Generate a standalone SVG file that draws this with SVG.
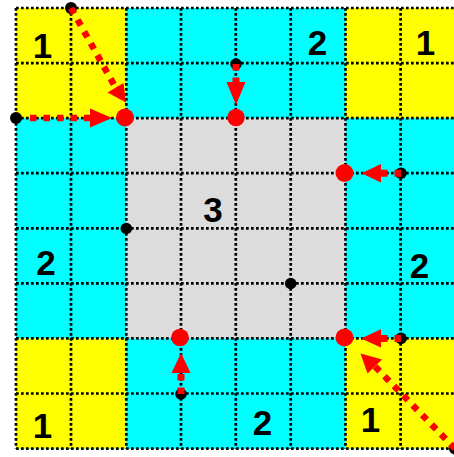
<svg xmlns="http://www.w3.org/2000/svg" width="454" height="457" viewBox="0 0 454 457">
<style>
.y{fill:#ffff00}.c{fill:#00ffff}.g{fill:#dcdcdc}
.grid line{stroke:#000;stroke-width:2.7;stroke-dasharray:2.7 2.3}
.lbl{font-family:"Liberation Sans",Arial,sans-serif;font-weight:bold;font-size:35px;fill:#000;text-anchor:middle}
.bd{fill:#000}.rd{fill:#ff0000}
.ln{stroke:#ff0000;stroke-width:6.5;stroke-dasharray:6.5 7;fill:none}
.sh{stroke:#ff0000;stroke-width:7;stroke-dasharray:6.5 7;fill:none}
.ah{fill:#ff0000}
</style>
<rect width="454" height="457" fill="#ffffff"/>
<g id="regions">
<rect class="c" x="16" y="8" width="440" height="441"/>
<rect class="y" x="16" y="8" width="110.3" height="110.1"/>
<rect class="y" x="345.5" y="8" width="110" height="110.1"/>
<rect class="y" x="16" y="338.4" width="110.3" height="110.2"/>
<rect class="y" x="345.5" y="338.4" width="110" height="110.2"/>
<rect class="g" x="126.3" y="118.1" width="219.2" height="220.3"/>
</g>
<g id="grid" class="grid">
<line x1="16" y1="8" x2="16" y2="448.6"/>
<line x1="71" y1="8" x2="71" y2="448.6"/>
<line x1="126.3" y1="8" x2="126.3" y2="448.6"/>
<line x1="181" y1="8" x2="181" y2="448.6"/>
<line x1="235.8" y1="8" x2="235.8" y2="448.6"/>
<line x1="290.7" y1="8" x2="290.7" y2="448.6"/>
<line x1="345.5" y1="8" x2="345.5" y2="448.6"/>
<line x1="400.6" y1="8" x2="400.6" y2="448.6"/>
<line x1="16" y1="8" x2="456" y2="8"/>
<line x1="16" y1="63.1" x2="456" y2="63.1"/>
<line x1="16" y1="118.1" x2="456" y2="118.1"/>
<line x1="16" y1="173.2" x2="456" y2="173.2"/>
<line x1="16" y1="228.3" x2="456" y2="228.3"/>
<line x1="16" y1="283.4" x2="456" y2="283.4"/>
<line x1="16" y1="338.4" x2="456" y2="338.4"/>
<line x1="16" y1="393.5" x2="456" y2="393.5"/>
<line x1="16" y1="448.6" x2="456" y2="448.6"/>
</g>
<g id="labels">
<text class="lbl" x="42.5" y="58">1</text>
<text class="lbl" x="317.5" y="55">2</text>
<text class="lbl" x="425.5" y="55">1</text>
<text class="lbl" x="213" y="222">3</text>
<text class="lbl" x="46" y="275">2</text>
<text class="lbl" x="419.5" y="278">2</text>
<text class="lbl" x="42.5" y="438">1</text>
<text class="lbl" x="262.5" y="435">2</text>
<text class="lbl" x="370.5" y="432">1</text>
</g>
<g id="sources">
<circle id="s1" class="bd" cx="71" cy="8" r="6"/>
<circle id="s2" class="bd" cx="16" cy="118" r="6"/>
<circle id="s3" class="bd" cx="236" cy="64" r="5.8"/>
<circle id="s4" class="bd" cx="401" cy="173.2" r="5.8"/>
<circle id="s5" class="bd" cx="126.3" cy="228.5" r="5.8"/>
<circle id="s6" class="bd" cx="290.7" cy="283.5" r="5.8"/>
<circle id="s7" class="bd" cx="401" cy="338.4" r="5.8"/>
<circle id="s8" class="bd" cx="181" cy="394" r="5.8"/>
<circle id="s9" class="bd" cx="455" cy="448.6" r="6"/>
</g>
<g id="connectors">
<line class="ln" x1="71" y1="8" x2="115.5" y2="87.5"/>
<polygon class="ah" points="107.5,92.5 123.5,83 126,102.5"/>
<line class="ln" x1="30" y1="118" x2="91" y2="118"/>
<polygon class="ah" points="90,108.5 90,127.5 112,118"/>
<line class="sh" x1="236" y1="64" x2="236" y2="83"/>
<polygon class="ah" points="226.5,82 245.5,82 236,105"/>
<line class="sh" x1="401" y1="173.2" x2="380" y2="173.2"/>
<polygon class="ah" points="381,164 381,182.5 361.5,173.2"/>
<line class="sh" x1="401" y1="338.4" x2="380" y2="338.4"/>
<polygon class="ah" points="381,329.2 381,347.6 361,338.4"/>
<line class="sh" x1="181" y1="394" x2="181" y2="372"/>
<polygon class="ah" points="171.5,373 190.5,373 181,353"/>
<line class="ln" x1="455" y1="448.6" x2="375" y2="366.5"/>
<polygon class="ah" points="382,359.5 367.5,373.5 360.5,353.5"/>
</g>
<g id="targets">
<circle id="t1" class="rd" cx="125" cy="117.5" r="9"/>
<circle id="t2" class="rd" cx="236" cy="117.5" r="8.7"/>
<circle id="t3" class="rd" cx="344.5" cy="173" r="9"/>
<circle id="t4" class="rd" cx="344.5" cy="337.5" r="9"/>
<circle id="t5" class="rd" cx="180" cy="337.5" r="8.8"/>
</g>
</svg>
